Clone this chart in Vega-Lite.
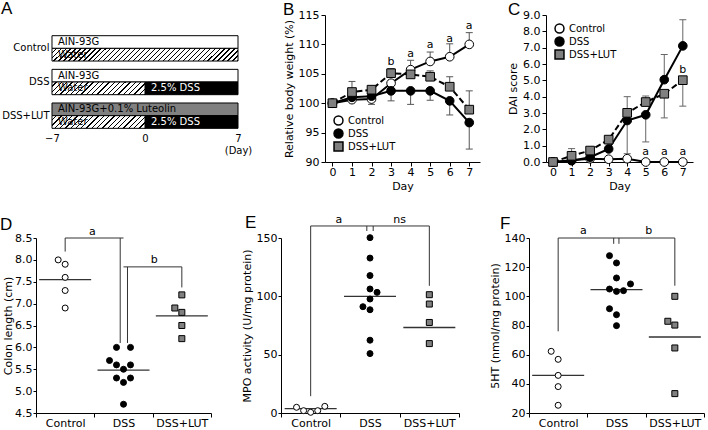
{
"$schema":"https://vega.github.io/schema/vega-lite/v6.json",
"padding":{"left":0,"top":0,"right":0,"bottom":0},
"background":"white",
"config":{
 "font":"DejaVu Sans",
 "view":{"stroke":null},
 "axis":{"domainColor":"#000","tickColor":"#000","labelColor":"#000","titleColor":"#000","labelFontSize":11,"titleFontSize":11,"titleFontWeight":"normal","tickSize":4,"labelPadding":2,"grid":false,"labelFont":"DejaVu Sans","titleFont":"DejaVu Sans"},
 "title":{"font":"Liberation Sans","fontSize":17,"fontWeight":"normal","anchor":"start","frame":"group","color":"#000","offset":2},
 "legend":{"labelFont":"DejaVu Sans","labelFontSize":10,"labelColor":"#000"}
},
"spacing":22,
"resolve":{"scale":{"x":"independent","y":"independent","shape":"independent","fill":"independent","xOffset":"independent","yOffset":"independent"},"legend":{"shape":"independent","fill":"independent"}},
"vconcat":[
{"hconcat":[
 {"width":223,"height":116,
  "title":{"text":"A","dx":-35,"offset":-3},
  "data":{"values":[
   {"group":"Control","row":"diet","start":-7,"end":7,"kind":"white","label":"AIN-93G"},
   {"group":"Control","row":"water","start":-7,"end":7,"kind":"hatchLong","label":"Water"},
   {"group":"DSS","row":"diet","start":-7,"end":7,"kind":"white","label":"AIN-93G"},
   {"group":"DSS","row":"water","start":-7,"end":0,"kind":"hatch","label":"Water"},
   {"group":"DSS","row":"water","start":0,"end":7,"kind":"black","label":"2.5% DSS"},
   {"group":"DSS+LUT","row":"diet","start":-7,"end":7,"kind":"gray","label":"AIN-93G+0.1% Luteolin"},
   {"group":"DSS+LUT","row":"water","start":-7,"end":0,"kind":"hatch","label":"Water"},
   {"group":"DSS+LUT","row":"water","start":0,"end":7,"kind":"black","label":"2.5% DSS"}
  ]},
  "encoding":{
   "y":{"field":"group","type":"nominal","sort":["Control","DSS","DSS+LUT"],"scale":{"paddingInner":0.247,"paddingOuter":0.347,"align":0.886},"axis":{"title":null,"ticks":false,"domain":false,"offset":-16,"labelPadding":3,"labelFontSize":10}},
   "yOffset":{"field":"row","type":"nominal","sort":["diet","water"]},
   "x":{"field":"start","type":"quantitative","scale":{"domain":[-8.204,8.58],"nice":false,"zero":false},"axis":{"values":[-7,0,7],"title":null,"domain":false,"ticks":false,"tickSize":0,"labelPadding":2,"labelFontSize":10,"labelLineHeight":12,"labelExpr":"datum.value == 7 ? ['7','(Day)'] : datum.label"}}
  },
  "layer":[
   {"transform":[{"filter":"datum.kind != 'hatch' && datum.kind != 'hatchLong'"}],
    "mark":{"type":"bar","stroke":"#000","strokeWidth":1},
    "encoding":{"x2":{"field":"end"},"fill":{"field":"kind","type":"nominal","scale":{"domain":["white","gray","black"],"range":["#ffffff","#808080","#000000"]},"legend":null}}},
   {"transform":[{"filter":"datum.kind == 'hatchLong'"}],
    "mark":{"type":"bar","stroke":"#000","strokeWidth":1,"fill":{"gradient":"linear","x1":0,"y1":0,"x2":1.0633,"y2":0.0726,"stops":[
{"offset":0,"color":"#fff"},
{"offset":0.01875,"color":"#fff"},{"offset":0.01875,"color":"#000"},{"offset":0.025,"color":"#000"},{"offset":0.025,"color":"#fff"},
{"offset":0.04375,"color":"#fff"},{"offset":0.04375,"color":"#000"},{"offset":0.05,"color":"#000"},{"offset":0.05,"color":"#fff"},
{"offset":0.06875,"color":"#fff"},{"offset":0.06875,"color":"#000"},{"offset":0.075,"color":"#000"},{"offset":0.075,"color":"#fff"},
{"offset":0.09375,"color":"#fff"},{"offset":0.09375,"color":"#000"},{"offset":0.1,"color":"#000"},{"offset":0.1,"color":"#fff"},
{"offset":0.11875,"color":"#fff"},{"offset":0.11875,"color":"#000"},{"offset":0.125,"color":"#000"},{"offset":0.125,"color":"#fff"},
{"offset":0.14375,"color":"#fff"},{"offset":0.14375,"color":"#000"},{"offset":0.15,"color":"#000"},{"offset":0.15,"color":"#fff"},
{"offset":0.16875,"color":"#fff"},{"offset":0.16875,"color":"#000"},{"offset":0.175,"color":"#000"},{"offset":0.175,"color":"#fff"},
{"offset":0.19375,"color":"#fff"},{"offset":0.19375,"color":"#000"},{"offset":0.2,"color":"#000"},{"offset":0.2,"color":"#fff"},
{"offset":0.21875,"color":"#fff"},{"offset":0.21875,"color":"#000"},{"offset":0.225,"color":"#000"},{"offset":0.225,"color":"#fff"},
{"offset":0.24375,"color":"#fff"},{"offset":0.24375,"color":"#000"},{"offset":0.25,"color":"#000"},{"offset":0.25,"color":"#fff"},
{"offset":0.26875,"color":"#fff"},{"offset":0.26875,"color":"#000"},{"offset":0.275,"color":"#000"},{"offset":0.275,"color":"#fff"},
{"offset":0.29375,"color":"#fff"},{"offset":0.29375,"color":"#000"},{"offset":0.3,"color":"#000"},{"offset":0.3,"color":"#fff"},
{"offset":0.31875,"color":"#fff"},{"offset":0.31875,"color":"#000"},{"offset":0.325,"color":"#000"},{"offset":0.325,"color":"#fff"},
{"offset":0.34375,"color":"#fff"},{"offset":0.34375,"color":"#000"},{"offset":0.35,"color":"#000"},{"offset":0.35,"color":"#fff"},
{"offset":0.36875,"color":"#fff"},{"offset":0.36875,"color":"#000"},{"offset":0.375,"color":"#000"},{"offset":0.375,"color":"#fff"},
{"offset":0.39375,"color":"#fff"},{"offset":0.39375,"color":"#000"},{"offset":0.4,"color":"#000"},{"offset":0.4,"color":"#fff"},
{"offset":0.41875,"color":"#fff"},{"offset":0.41875,"color":"#000"},{"offset":0.425,"color":"#000"},{"offset":0.425,"color":"#fff"},
{"offset":0.44375,"color":"#fff"},{"offset":0.44375,"color":"#000"},{"offset":0.45,"color":"#000"},{"offset":0.45,"color":"#fff"},
{"offset":0.46875,"color":"#fff"},{"offset":0.46875,"color":"#000"},{"offset":0.475,"color":"#000"},{"offset":0.475,"color":"#fff"},
{"offset":0.49375,"color":"#fff"},{"offset":0.49375,"color":"#000"},{"offset":0.5,"color":"#000"},{"offset":0.5,"color":"#fff"},
{"offset":0.51875,"color":"#fff"},{"offset":0.51875,"color":"#000"},{"offset":0.525,"color":"#000"},{"offset":0.525,"color":"#fff"},
{"offset":0.54375,"color":"#fff"},{"offset":0.54375,"color":"#000"},{"offset":0.55,"color":"#000"},{"offset":0.55,"color":"#fff"},
{"offset":0.56875,"color":"#fff"},{"offset":0.56875,"color":"#000"},{"offset":0.575,"color":"#000"},{"offset":0.575,"color":"#fff"},
{"offset":0.59375,"color":"#fff"},{"offset":0.59375,"color":"#000"},{"offset":0.6,"color":"#000"},{"offset":0.6,"color":"#fff"},
{"offset":0.61875,"color":"#fff"},{"offset":0.61875,"color":"#000"},{"offset":0.625,"color":"#000"},{"offset":0.625,"color":"#fff"},
{"offset":0.64375,"color":"#fff"},{"offset":0.64375,"color":"#000"},{"offset":0.65,"color":"#000"},{"offset":0.65,"color":"#fff"},
{"offset":0.66875,"color":"#fff"},{"offset":0.66875,"color":"#000"},{"offset":0.675,"color":"#000"},{"offset":0.675,"color":"#fff"},
{"offset":0.69375,"color":"#fff"},{"offset":0.69375,"color":"#000"},{"offset":0.7,"color":"#000"},{"offset":0.7,"color":"#fff"},
{"offset":0.71875,"color":"#fff"},{"offset":0.71875,"color":"#000"},{"offset":0.725,"color":"#000"},{"offset":0.725,"color":"#fff"},
{"offset":0.74375,"color":"#fff"},{"offset":0.74375,"color":"#000"},{"offset":0.75,"color":"#000"},{"offset":0.75,"color":"#fff"},
{"offset":0.76875,"color":"#fff"},{"offset":0.76875,"color":"#000"},{"offset":0.775,"color":"#000"},{"offset":0.775,"color":"#fff"},
{"offset":0.79375,"color":"#fff"},{"offset":0.79375,"color":"#000"},{"offset":0.8,"color":"#000"},{"offset":0.8,"color":"#fff"},
{"offset":0.81875,"color":"#fff"},{"offset":0.81875,"color":"#000"},{"offset":0.825,"color":"#000"},{"offset":0.825,"color":"#fff"},
{"offset":0.84375,"color":"#fff"},{"offset":0.84375,"color":"#000"},{"offset":0.85,"color":"#000"},{"offset":0.85,"color":"#fff"},
{"offset":0.86875,"color":"#fff"},{"offset":0.86875,"color":"#000"},{"offset":0.875,"color":"#000"},{"offset":0.875,"color":"#fff"},
{"offset":0.89375,"color":"#fff"},{"offset":0.89375,"color":"#000"},{"offset":0.9,"color":"#000"},{"offset":0.9,"color":"#fff"},
{"offset":0.91875,"color":"#fff"},{"offset":0.91875,"color":"#000"},{"offset":0.925,"color":"#000"},{"offset":0.925,"color":"#fff"},
{"offset":0.94375,"color":"#fff"},{"offset":0.94375,"color":"#000"},{"offset":0.95,"color":"#000"},{"offset":0.95,"color":"#fff"},
{"offset":0.96875,"color":"#fff"},{"offset":0.96875,"color":"#000"},{"offset":0.975,"color":"#000"},{"offset":0.975,"color":"#fff"},
{"offset":0.99375,"color":"#fff"},{"offset":0.99375,"color":"#000"},{"offset":1,"color":"#000"}
]}},
    "encoding":{"x2":{"field":"end"}}},
   {"transform":[{"filter":"datum.kind == 'hatch'"}],
    "mark":{"type":"bar","stroke":"#000","strokeWidth":1,"fill":{"gradient":"linear","x1":0,"y1":0,"x2":1.1157,"y2":0.1524,"stops":[
{"offset":0,"color":"#fff"},
{"offset":0.0375,"color":"#fff"},{"offset":0.0375,"color":"#000"},{"offset":0.05,"color":"#000"},{"offset":0.05,"color":"#fff"},
{"offset":0.0875,"color":"#fff"},{"offset":0.0875,"color":"#000"},{"offset":0.1,"color":"#000"},{"offset":0.1,"color":"#fff"},
{"offset":0.1375,"color":"#fff"},{"offset":0.1375,"color":"#000"},{"offset":0.15,"color":"#000"},{"offset":0.15,"color":"#fff"},
{"offset":0.1875,"color":"#fff"},{"offset":0.1875,"color":"#000"},{"offset":0.2,"color":"#000"},{"offset":0.2,"color":"#fff"},
{"offset":0.2375,"color":"#fff"},{"offset":0.2375,"color":"#000"},{"offset":0.25,"color":"#000"},{"offset":0.25,"color":"#fff"},
{"offset":0.2875,"color":"#fff"},{"offset":0.2875,"color":"#000"},{"offset":0.3,"color":"#000"},{"offset":0.3,"color":"#fff"},
{"offset":0.3375,"color":"#fff"},{"offset":0.3375,"color":"#000"},{"offset":0.35,"color":"#000"},{"offset":0.35,"color":"#fff"},
{"offset":0.3875,"color":"#fff"},{"offset":0.3875,"color":"#000"},{"offset":0.4,"color":"#000"},{"offset":0.4,"color":"#fff"},
{"offset":0.4375,"color":"#fff"},{"offset":0.4375,"color":"#000"},{"offset":0.45,"color":"#000"},{"offset":0.45,"color":"#fff"},
{"offset":0.4875,"color":"#fff"},{"offset":0.4875,"color":"#000"},{"offset":0.5,"color":"#000"},{"offset":0.5,"color":"#fff"},
{"offset":0.5375,"color":"#fff"},{"offset":0.5375,"color":"#000"},{"offset":0.55,"color":"#000"},{"offset":0.55,"color":"#fff"},
{"offset":0.5875,"color":"#fff"},{"offset":0.5875,"color":"#000"},{"offset":0.6,"color":"#000"},{"offset":0.6,"color":"#fff"},
{"offset":0.6375,"color":"#fff"},{"offset":0.6375,"color":"#000"},{"offset":0.65,"color":"#000"},{"offset":0.65,"color":"#fff"},
{"offset":0.6875,"color":"#fff"},{"offset":0.6875,"color":"#000"},{"offset":0.7,"color":"#000"},{"offset":0.7,"color":"#fff"},
{"offset":0.7375,"color":"#fff"},{"offset":0.7375,"color":"#000"},{"offset":0.75,"color":"#000"},{"offset":0.75,"color":"#fff"},
{"offset":0.7875,"color":"#fff"},{"offset":0.7875,"color":"#000"},{"offset":0.8,"color":"#000"},{"offset":0.8,"color":"#fff"},
{"offset":0.8375,"color":"#fff"},{"offset":0.8375,"color":"#000"},{"offset":0.85,"color":"#000"},{"offset":0.85,"color":"#fff"},
{"offset":0.8875,"color":"#fff"},{"offset":0.8875,"color":"#000"},{"offset":0.9,"color":"#000"},{"offset":0.9,"color":"#fff"},
{"offset":0.9375,"color":"#fff"},{"offset":0.9375,"color":"#000"},{"offset":0.95,"color":"#000"},{"offset":0.95,"color":"#fff"},
{"offset":0.9875,"color":"#fff"},{"offset":0.9875,"color":"#000"},{"offset":1,"color":"#000"}
]}},
    "encoding":{"x2":{"field":"end"}}},
   {"mark":{"type":"text","align":"left","dx":6,"fontSize":10,"baseline":"middle"},
    "encoding":{"text":{"field":"label"},"color":{"condition":{"test":"datum.kind == 'black'","value":"#ffffff"},"value":"#000000"}}}
  ]},
 {"width":155,"height":147,
  "title":{"text":"B","dx":-42,"offset":-10},
  "encoding":{
   "x":{"field":"day","type":"quantitative","scale":{"domain":[-0.38,7.55],"nice":false,"zero":false},"axis":{"values":[0,1,2,3,4,5,6,7],"title":"Day","titlePadding":3,"labelPadding":0}},
   "y":{"field":"v","type":"quantitative","scale":{"domain":[90,115],"nice":false,"zero":false},"axis":{"values":[90,95,100,105,110,115],"title":"Relative body weight (%)"}}
  },
  "layer":[
   {"data":{"values":[
     {"series":"Control","day":4,"v":105.7,"e":107.3},{"series":"Control","day":5,"v":107.1,"e":108.7},{"series":"Control","day":6,"v":107.9,"e":110.1},{"series":"Control","day":7,"v":110.0,"e":112.0},
     {"series":"DSS","day":2,"v":101.2,"e":99.8},{"series":"DSS","day":3,"v":102.1,"e":100.4},{"series":"DSS","day":4,"v":102.1,"e":99.8},{"series":"DSS","day":5,"v":102.1,"e":100.5},{"series":"DSS","day":6,"v":100.4,"e":98.0},{"series":"DSS","day":7,"v":96.7,"e":92.2},
     {"series":"DSS+LUT","day":1,"v":101.9,"e":103.7},{"series":"DSS+LUT","day":2,"v":102.3,"e":102.9},{"series":"DSS+LUT","day":3,"v":105.1,"e":105.9},{"series":"DSS+LUT","day":4,"v":104.9,"e":105.4},{"series":"DSS+LUT","day":5,"v":104.5,"e":105.5},{"series":"DSS+LUT","day":6,"v":102.8,"e":104.5},{"series":"DSS+LUT","day":7,"v":98.9,"e":102.1}
    ]},
    "layer":[
     {"mark":{"type":"rule","color":"#555","strokeWidth":1},"encoding":{"y2":{"field":"e"}}},
     {"mark":{"type":"tick","orient":"horizontal","size":7,"thickness":1,"color":"#555","opacity":1},"encoding":{"y":{"field":"e","type":"quantitative"}}}
    ]},
   {"data":{"values":[
     {"series":"Control","day":0,"v":100},{"series":"Control","day":1,"v":100.6},{"series":"Control","day":2,"v":100.7},{"series":"Control","day":3,"v":103.4},{"series":"Control","day":4,"v":105.7},{"series":"Control","day":5,"v":107.1},{"series":"Control","day":6,"v":107.9},{"series":"Control","day":7,"v":110.0},
     {"series":"DSS","day":0,"v":100},{"series":"DSS","day":1,"v":101.0},{"series":"DSS","day":2,"v":101.2},{"series":"DSS","day":3,"v":102.1},{"series":"DSS","day":4,"v":102.1},{"series":"DSS","day":5,"v":102.1},{"series":"DSS","day":6,"v":100.4},{"series":"DSS","day":7,"v":96.7},
     {"series":"DSS+LUT","day":0,"v":100},{"series":"DSS+LUT","day":1,"v":101.9},{"series":"DSS+LUT","day":2,"v":102.3},{"series":"DSS+LUT","day":3,"v":105.1},{"series":"DSS+LUT","day":4,"v":104.9},{"series":"DSS+LUT","day":5,"v":104.5},{"series":"DSS+LUT","day":6,"v":102.8},{"series":"DSS+LUT","day":7,"v":98.9}
    ]},
    "layer":[
     {"transform":[{"filter":"datum.series != 'DSS+LUT'"}],"mark":{"type":"line","color":"#000","strokeWidth":2},"encoding":{"detail":{"field":"series"}}},
     {"transform":[{"filter":"datum.series == 'DSS+LUT'"}],"mark":{"type":"line","color":"#000","strokeWidth":2,"strokeDash":[6,3]},"encoding":{}},
     {"mark":{"type":"point","filled":true,"stroke":"#000","strokeWidth":1,"opacity":1,"size":75},
      "encoding":{
       "shape":{"field":"series","type":"nominal","scale":{"domain":["Control","DSS","DSS+LUT"],"range":["circle","circle","square"]},"legend":{"orient":"bottom-left","offset":8,"title":null,"symbolSize":80,"labelFontSize":10,"rowPadding":-3,"padding":0,"labelOffset":4,"encode":{"symbols":{"update":{"stroke":{"value":"#000"},"strokeWidth":{"value":1}}}}}},
       "fill":{"field":"series","type":"nominal","scale":{"domain":["Control","DSS","DSS+LUT"],"range":["#ffffff","#000000","#808080"]},"legend":{"orient":"bottom-left","offset":8,"title":null,"symbolSize":80,"labelFontSize":10,"rowPadding":-3,"padding":0,"labelOffset":4,"encode":{"symbols":{"update":{"stroke":{"value":"#000"},"strokeWidth":{"value":1}}}}}}
      }}
    ]},
   {"data":{"values":[{"day":3,"v":107.0,"t":"b"},{"day":4,"v":108.3,"t":"a"},{"day":5,"v":109.9,"t":"a"},{"day":6,"v":111.0,"t":"a"},{"day":7,"v":113.2,"t":"a"}]},
    "mark":{"type":"text","fontSize":11,"baseline":"middle","color":"#000"},"encoding":{"text":{"field":"t"}}}
  ]},
 {"width":147,"height":147,
  "title":{"text":"C","dx":-38,"offset":-10},
  "encoding":{
   "x":{"field":"day","type":"quantitative","scale":{"domain":[-0.38,7.55],"nice":false,"zero":false},"axis":{"values":[0,1,2,3,4,5,6,7],"title":"Day","titlePadding":3,"labelPadding":0}},
   "y":{"field":"v","type":"quantitative","scale":{"domain":[0,9],"nice":false,"zero":false},"axis":{"values":[0,1,2,3,4,5,6,7,8,9],"format":".1f","title":"DAI score"}}
  },
  "layer":[
   {"data":{"values":[
     {"series":"DSS","day":4,"v":2.54,"e":0.51},{"series":"DSS","day":5,"v":2.89,"e":1.23},{"series":"DSS","day":6,"v":5.04,"e":6.58},{"series":"DSS","day":7,"v":7.11,"e":8.71},
     {"series":"DSS+LUT","day":1,"v":0.38,"e":0.82},{"series":"DSS+LUT","day":4,"v":3.01,"e":4.0},{"series":"DSS+LUT","day":5,"v":3.67,"e":4.04},{"series":"DSS+LUT","day":6,"v":4.18,"e":2.7},{"series":"DSS+LUT","day":7,"v":5.01,"e":3.42}
    ]},
    "layer":[
     {"mark":{"type":"rule","color":"#666","strokeWidth":1},"encoding":{"y2":{"field":"e"}}},
     {"mark":{"type":"tick","orient":"horizontal","size":7,"thickness":1,"color":"#666","opacity":1},"encoding":{"y":{"field":"e","type":"quantitative"}}}
    ]},
   {"data":{"values":[
     {"series":"Control","day":0,"v":0},{"series":"Control","day":1,"v":0.1},{"series":"Control","day":2,"v":0.2},{"series":"Control","day":3,"v":0.17},{"series":"Control","day":4,"v":0.2},{"series":"Control","day":5,"v":0},{"series":"Control","day":6,"v":0},{"series":"Control","day":7,"v":0},
     {"series":"DSS","day":0,"v":0},{"series":"DSS","day":1,"v":0.08},{"series":"DSS","day":2,"v":0.29},{"series":"DSS","day":3,"v":0.8},{"series":"DSS","day":4,"v":2.54},{"series":"DSS","day":5,"v":2.89},{"series":"DSS","day":6,"v":5.04},{"series":"DSS","day":7,"v":7.11},
     {"series":"DSS+LUT","day":0,"v":0},{"series":"DSS+LUT","day":1,"v":0.38},{"series":"DSS+LUT","day":2,"v":0.7},{"series":"DSS+LUT","day":3,"v":1.37},{"series":"DSS+LUT","day":4,"v":3.01},{"series":"DSS+LUT","day":5,"v":3.67},{"series":"DSS+LUT","day":6,"v":4.18},{"series":"DSS+LUT","day":7,"v":5.01}
    ]},
    "layer":[
     {"transform":[{"filter":"datum.series != 'DSS+LUT'"}],"mark":{"type":"line","color":"#000","strokeWidth":2},"encoding":{"detail":{"field":"series"}}},
     {"transform":[{"filter":"datum.series == 'DSS+LUT'"}],"mark":{"type":"line","color":"#000","strokeWidth":2,"strokeDash":[6,3]},"encoding":{}},
     {"mark":{"type":"point","filled":true,"stroke":"#000","strokeWidth":1,"opacity":1,"size":75},
      "encoding":{
       "shape":{"field":"series","type":"nominal","scale":{"domain":["Control","DSS","DSS+LUT"],"range":["circle","circle","square"]},"legend":{"orient":"top-left","offset":8,"title":null,"symbolSize":80,"labelFontSize":10,"rowPadding":-3,"padding":0,"labelOffset":4,"encode":{"symbols":{"update":{"stroke":{"value":"#000"},"strokeWidth":{"value":1}}}}}},
       "fill":{"field":"series","type":"nominal","scale":{"domain":["Control","DSS","DSS+LUT"],"range":["#ffffff","#000000","#808080"]},"legend":{"orient":"top-left","offset":8,"title":null,"symbolSize":80,"labelFontSize":10,"rowPadding":-3,"padding":0,"labelOffset":4,"encode":{"symbols":{"update":{"stroke":{"value":"#000"},"strokeWidth":{"value":1}}}}}}
      }}
    ]},
   {"data":{"values":[{"day":5,"v":0.62,"t":"a"},{"day":6,"v":0.62,"t":"a"},{"day":7,"v":0.62,"t":"a"},{"day":7,"v":5.65,"t":"b"}]},
    "mark":{"type":"text","fontSize":11,"baseline":"middle","color":"#000"},"encoding":{"text":{"field":"t"}}}
  ]}
 ],"spacing":66,"bounds":"flush",
 "resolve":{"scale":{"x":"independent","y":"independent","shape":"independent","fill":"independent","xOffset":"independent","yOffset":"independent"},"legend":{"shape":"independent","fill":"independent"}}},
{"hconcat":[
 {"width":175,"height":175,
  "title":{"text":"D","dx":-36,"offset":-8},
  "encoding":{
   "x":{"field":"group","type":"nominal","scale":{"domain":["Control","DSS","DSS+LUT"],"paddingInner":0,"paddingOuter":0},"axis":{"title":null,"labelAngle":0,"tickBand":"extent","labelPadding":0}},
   "y":{"field":"v","type":"quantitative","scale":{"domain":[4.5,8.5],"nice":false,"zero":false},"axis":{"values":[4.5,5,5.5,6,6.5,7,7.5,8,8.5],"format":".1f","title":"Colon length (cm)","tickSize":3,"labelPadding":1,"titlePadding":1}}
  },
  "layer":[
   {"data":{"values":[{"group":"Control","slot":0,"v":8.19,"v2":8.5},{"group":"DSS","slot":-0.47,"v":6.1,"v2":8.5},{"group":"DSS","slot":0.57,"v":6.1,"v2":7.84},{"group":"DSS+LUT","slot":0,"v":7.37,"v2":7.84}]},
    "mark":{"type":"rule","color":"#333","strokeWidth":1},
    "encoding":{"xOffset":{"field":"slot","type":"quantitative","scale":{"domain":[-4.17,4.17],"nice":false,"zero":false}},"y2":{"field":"v2"}}},
   {"data":{"values":[{"group":"Control","group2":"DSS","v":8.5},{"group":"DSS","group2":"DSS+LUT","v":7.84}]},
    "mark":{"type":"rule","color":"#333","strokeWidth":1},
    "encoding":{"x2":{"field":"group2"}}},
   {"data":{"values":[{"group":"Control","slot":3.9,"v":8.64,"t":"a"},{"group":"DSS","slot":4.4,"v":7.99,"t":"b"}]},
    "mark":{"type":"text","fontSize":11,"baseline":"middle","color":"#000"},
    "encoding":{"xOffset":{"field":"slot","type":"quantitative"},"text":{"field":"t"}}},
   {"data":{"values":[{"group":"Control","v":7.55},{"group":"DSS","v":5.48},{"group":"DSS+LUT","v":6.72}]},
    "mark":{"type":"tick","orient":"horizontal","size":52,"thickness":1.3,"color":"#333","opacity":1}},
   {"data":{"values":[
     {"group":"Control","slot":-1,"v":8.0},{"group":"Control","slot":0,"v":7.9},{"group":"Control","slot":0,"v":7.6},{"group":"Control","slot":0,"v":7.3},{"group":"Control","slot":0,"v":6.9},
     {"group":"DSS","slot":-1,"v":6.0},{"group":"DSS","slot":1,"v":6.0},{"group":"DSS","slot":-2,"v":5.7},{"group":"DSS","slot":-1,"v":5.6},{"group":"DSS","slot":1,"v":5.6},{"group":"DSS","slot":0,"v":5.5},{"group":"DSS","slot":-1,"v":5.3},{"group":"DSS","slot":1,"v":5.3},{"group":"DSS","slot":0,"v":5.2},{"group":"DSS","slot":0,"v":4.7},
     {"group":"DSS+LUT","slot":0,"v":7.2},{"group":"DSS+LUT","slot":-1,"v":6.9},{"group":"DSS+LUT","slot":0,"v":6.8},{"group":"DSS+LUT","slot":0,"v":6.5},{"group":"DSS+LUT","slot":0,"v":6.2}
    ]},
    "mark":{"type":"point","filled":true,"stroke":"#000","strokeWidth":1,"opacity":1,"size":36},
    "encoding":{"xOffset":{"field":"slot","type":"quantitative"},
     "shape":{"field":"group","type":"nominal","scale":{"domain":["Control","DSS","DSS+LUT"],"range":["circle","circle","square"]},"legend":null},
     "fill":{"field":"group","type":"nominal","scale":{"domain":["Control","DSS","DSS+LUT"],"range":["#ffffff","#000000","#808080"]},"legend":null}}}
  ]},
 {"width":178,"height":175,
  "title":{"text":"E","dx":-36,"offset":-18},
  "encoding":{
   "x":{"field":"group","type":"nominal","scale":{"domain":["Control","DSS","DSS+LUT"],"paddingInner":0,"paddingOuter":0},"axis":{"title":null,"labelAngle":0,"tickBand":"extent","labelPadding":0}},
   "y":{"field":"v","type":"quantitative","scale":{"domain":[0,150],"nice":false,"zero":false},"axis":{"values":[0,50,100,150],"title":"MPO activity (U/mg protein)","tickSize":3,"labelPadding":1}}
  },
  "layer":[
   {"data":{"values":[{"group":"Control","slot":0,"v":14.4,"v2":160.3},{"group":"DSS","slot":-0.45,"v":156,"v2":160.3},{"group":"DSS","slot":0.45,"v":156,"v2":160.3},{"group":"DSS+LUT","slot":0,"v":109,"v2":160.3}]},
    "mark":{"type":"rule","color":"#333","strokeWidth":1},
    "encoding":{"xOffset":{"field":"slot","type":"quantitative","scale":{"domain":[-4.2,4.2],"nice":false,"zero":false}},"y2":{"field":"v2"}}},
   {"data":{"values":[{"group":"Control","group2":"DSS","v":160.3},{"group":"DSS","group2":"DSS+LUT","v":160.3}]},
    "mark":{"type":"rule","color":"#333","strokeWidth":1},
    "encoding":{"x2":{"field":"group2"}}},
   {"data":{"values":[{"group":"Control","slot":4.0,"v":165.5,"t":"a"},{"group":"DSS","slot":4.2,"v":165.5,"t":"ns"}]},
    "mark":{"type":"text","fontSize":11,"baseline":"middle","color":"#000"},
    "encoding":{"xOffset":{"field":"slot","type":"quantitative"},"text":{"field":"t"}}},
   {"data":{"values":[{"group":"Control","v":3.7},{"group":"DSS","v":99.9},{"group":"DSS+LUT","v":73.3}]},
    "mark":{"type":"tick","orient":"horizontal","size":52,"thickness":1.3,"color":"#333","opacity":1}},
   {"data":{"values":[
     {"group":"Control","slot":-2,"v":4.9},{"group":"Control","slot":-1,"v":2.0},{"group":"Control","slot":0,"v":0.6},{"group":"Control","slot":1,"v":2.0},{"group":"Control","slot":2,"v":5.7},
     {"group":"DSS","slot":0,"v":150.3},{"group":"DSS","slot":0,"v":132.8},{"group":"DSS","slot":0,"v":117.8},{"group":"DSS","slot":0,"v":106.3},{"group":"DSS","slot":1,"v":103.4},{"group":"DSS","slot":0,"v":97.7},{"group":"DSS","slot":-1,"v":91.1},{"group":"DSS","slot":0,"v":88.5},{"group":"DSS","slot":0,"v":62.4},{"group":"DSS","slot":0,"v":50.9},
     {"group":"DSS+LUT","slot":0,"v":101.4},{"group":"DSS+LUT","slot":0,"v":93.4},{"group":"DSS+LUT","slot":0,"v":77.6},{"group":"DSS+LUT","slot":0,"v":59.5}
    ]},
    "mark":{"type":"point","filled":true,"stroke":"#000","strokeWidth":1,"opacity":1,"size":36},
    "encoding":{"xOffset":{"field":"slot","type":"quantitative"},
     "shape":{"field":"group","type":"nominal","scale":{"domain":["Control","DSS","DSS+LUT"],"range":["circle","circle","square"]},"legend":null},
     "fill":{"field":"group","type":"nominal","scale":{"domain":["Control","DSS","DSS+LUT"],"range":["#ffffff","#000000","#808080"]},"legend":null}}}
  ]},
 {"width":175,"height":175,
  "title":{"text":"F","dx":-29,"offset":-8},
  "encoding":{
   "x":{"field":"group","type":"nominal","scale":{"domain":["Control","DSS","DSS+LUT"],"paddingInner":0,"paddingOuter":0},"axis":{"title":null,"labelAngle":0,"tickBand":"extent","labelPadding":0}},
   "y":{"field":"v","type":"quantitative","scale":{"domain":[20,140],"nice":false,"zero":false},"axis":{"values":[20,40,60,80,100,120,140],"title":"5HT (nmol/mg protein)","tickSize":3,"labelPadding":1}}
  },
  "layer":[
   {"data":{"values":[{"group":"Control","slot":0,"v":76,"v2":140},{"group":"DSS","slot":-0.4,"v":136,"v2":140},{"group":"DSS","slot":0.35,"v":136,"v2":140},{"group":"DSS+LUT","slot":0,"v":107.3,"v2":140}]},
    "mark":{"type":"rule","color":"#333","strokeWidth":1},
    "encoding":{"xOffset":{"field":"slot","type":"quantitative","scale":{"domain":[-4.17,4.17],"nice":false,"zero":false}},"y2":{"field":"v2"}}},
   {"data":{"values":[{"group":"Control","group2":"DSS","v":140},{"group":"DSS","group2":"DSS+LUT","v":140}]},
    "mark":{"type":"rule","color":"#333","strokeWidth":1},
    "encoding":{"x2":{"field":"group2"}}},
   {"data":{"values":[{"group":"Control","slot":3.6,"v":144.5,"t":"a"},{"group":"DSS","slot":4.6,"v":144.5,"t":"b"}]},
    "mark":{"type":"text","fontSize":11,"baseline":"middle","color":"#000"},
    "encoding":{"xOffset":{"field":"slot","type":"quantitative"},"text":{"field":"t"}}},
   {"data":{"values":[{"group":"Control","v":45.8},{"group":"DSS","v":104.6},{"group":"DSS+LUT","v":72.1}]},
    "mark":{"type":"tick","orient":"horizontal","size":52,"thickness":1.3,"color":"#333","opacity":1}},
   {"data":{"values":[
     {"group":"Control","slot":-1,"v":62.3},{"group":"Control","slot":0,"v":56.8},{"group":"Control","slot":0,"v":45.8},{"group":"Control","slot":0,"v":38.1},{"group":"Control","slot":0,"v":25.3},
     {"group":"DSS","slot":-1,"v":127.9},{"group":"DSS","slot":0,"v":122.9},{"group":"DSS","slot":0,"v":112.6},{"group":"DSS","slot":-1,"v":105.0},{"group":"DSS","slot":0,"v":103.4},{"group":"DSS","slot":1,"v":103.9},{"group":"DSS","slot":2,"v":108.5},{"group":"DSS","slot":-1,"v":91.5},{"group":"DSS","slot":0,"v":87.4},{"group":"DSS","slot":0,"v":79.9},
     {"group":"DSS+LUT","slot":0,"v":100},{"group":"DSS+LUT","slot":-1,"v":82.9},{"group":"DSS+LUT","slot":0,"v":80.3},{"group":"DSS+LUT","slot":0,"v":64.6},{"group":"DSS+LUT","slot":0,"v":33.3}
    ]},
    "mark":{"type":"point","filled":true,"stroke":"#000","strokeWidth":1,"opacity":1,"size":36},
    "encoding":{"xOffset":{"field":"slot","type":"quantitative"},
     "shape":{"field":"group","type":"nominal","scale":{"domain":["Control","DSS","DSS+LUT"],"range":["circle","circle","square"]},"legend":null},
     "fill":{"field":"group","type":"nominal","scale":{"domain":["Control","DSS","DSS+LUT"],"range":["#ffffff","#000000","#808080"]},"legend":null}}}
  ]}
 ],"spacing":70,"bounds":"flush",
 "resolve":{"scale":{"x":"independent","y":"independent","shape":"independent","fill":"independent","xOffset":"independent","yOffset":"independent"},"legend":{"shape":"independent","fill":"independent"}}}
]
}
